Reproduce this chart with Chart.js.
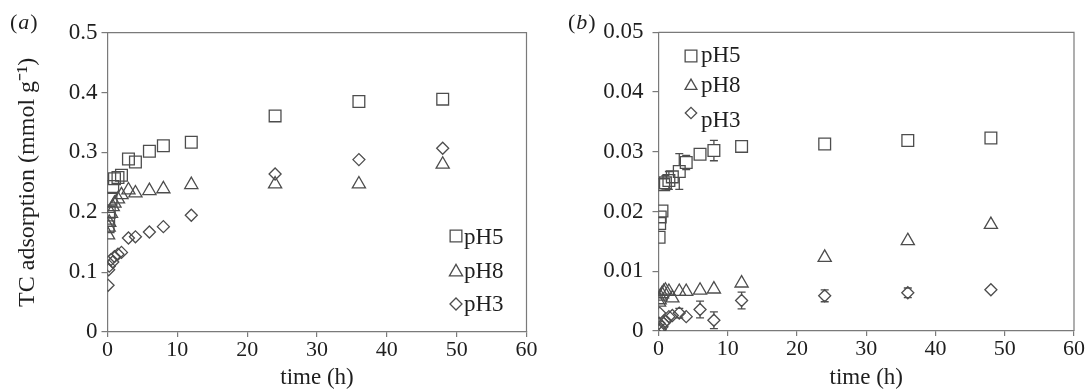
<!DOCTYPE html>
<html>
<head>
<meta charset="utf-8">
<script src="https://cdn.jsdelivr.net/npm/chart.js@4/dist/chart.umd.min.js"></script>
<style>
  body { margin: 0; background: #fff; }
  #wrap { position: relative; width: 1089px; height: 389px; }
  canvas { position: absolute; top: 0; }
  #chartA { left: 0; }
  #chartB { left: 540px; }
</style>
</head>
<body>
<div id="wrap">
  <canvas id="chartA" width="540" height="389"></canvas>
  <canvas id="chartB" width="549" height="389"></canvas>
</div>
<script>
// sampling times (h)
const times = [0.083, 0.167, 0.25, 0.5, 0.75, 1, 1.5, 2, 3, 4, 6, 8, 12, 24, 36, 48];
const xTicks = [0, 10, 20, 30, 40, 50, 60];
const yTicksA = [0, 0.1, 0.2, 0.3, 0.4, 0.5];
const yTicksB = [0, 0.01, 0.02, 0.03, 0.04, 0.05];
const seriesLabels = ['pH5', 'pH8', 'pH3'];

// panel (a)
const pH5A = [0.176, 0.19, 0.2, 0.222, 0.243, 0.256, 0.258, 0.262, 0.289, 0.284, 0.302, 0.311, 0.317, 0.361, 0.385, 0.389];
const pH8A = [0.162, 0.175, 0.183, 0.198, 0.209, 0.215, 0.222, 0.229, 0.237, 0.232, 0.236, 0.239, 0.246, 0.247, 0.247, 0.28];
const pH3A = [0.078, 0.104, 0.11, 0.121, 0.117, 0.126, 0.13, 0.133, 0.157, 0.159, 0.167, 0.176, 0.195, 0.264, 0.288, 0.307];

// panel (b) with error bars
const pH5B = [0.0157, 0.018, 0.0191, 0.0201, 0.0245, 0.0248, 0.0252, 0.0258, 0.0267, 0.0282, 0.0296, 0.0302, 0.0309, 0.0313, 0.0319, 0.0323];
const pH8B = [0.0048, 0.0052, 0.0058, 0.0062, 0.0066, 0.0068, 0.0066, 0.0055, 0.0066, 0.0066, 0.0068, 0.007, 0.008, 0.0123, 0.0151, 0.0178];
const pH3B = [0.0013, 0.003, 0.0002, 0.0007, 0.0013, 0.0016, 0.0024, 0.0026, 0.003, 0.0024, 0.0036, 0.0018, 0.0051, 0.0059, 0.0064, 0.0069];
const pH5BErr = [0, 0, 0, 0, 0.001, 0.0012, 0.0015, 0.001, 0.003, 0.0012, 0.0005, 0.0017, 0, 0, 0, 0];
const pH8BErr = [0, 0, 0, 0, 0, 0, 0, 0.0006, 0, 0, 0, 0, 0.0006, 0, 0, 0];
const pH3BErr = [0, 0, 0, 0, 0, 0, 0, 0, 0.0008, 0, 0.0014, 0.0014, 0.0014, 0.001, 0.0008, 0.0005];

const markColor = '#4d4d4d';
const axisColor = '#7a7a7a';
const textColor = '#1e1e1e';
const serif = '"Liberation Serif", "Times New Roman", serif';

const styles = [
  { pointStyle: 'rect', pointRadius: 8.3 },
  { pointStyle: 'triangle', pointRadius: 7.6 },
  { pointStyle: 'rectRot', pointRadius: 6 },
];

function makeDatasets(values, errors) {
  return values.map((vals, i) => ({
    label: seriesLabels[i],
    data: times.map((t, j) => ({ x: t, y: vals[j] })),
    errors: errors ? errors[i] : null,
    showLine: false,
    pointStyle: styles[i].pointStyle,
    pointRadius: styles[i].pointRadius,
    pointHoverRadius: styles[i].pointRadius,
    pointBorderWidth: 1.3,
    pointBorderColor: markColor,
    pointBackgroundColor: 'rgba(0,0,0,0)',
  }));
}

function drawMarker(ctx, style, r, x, y) {
  ctx.beginPath();
  if (style === 'rect') {
    const s = r * Math.SQRT1_2;
    ctx.rect(x - s, y - s, 2 * s, 2 * s);
  } else if (style === 'triangle') {
    ctx.moveTo(x, y - r);
    ctx.lineTo(x + r * Math.sin(2 * Math.PI / 3), y + r / 2);
    ctx.lineTo(x - r * Math.sin(2 * Math.PI / 3), y + r / 2);
    ctx.closePath();
  } else {
    ctx.moveTo(x - r, y);
    ctx.lineTo(x, y - r);
    ctx.lineTo(x + r, y);
    ctx.lineTo(x, y + r);
    ctx.closePath();
  }
  ctx.stroke();
}

const errorBars = {
  id: 'errorBars',
  afterDatasetsDraw(chart) {
    const ctx = chart.ctx;
    const xs = chart.scales.x, ys = chart.scales.y;
    ctx.save();
    ctx.strokeStyle = markColor;
    ctx.lineWidth = 1.3;
    chart.data.datasets.forEach(ds => {
      if (!ds.errors) return;
      ds.data.forEach((p, j) => {
        const e = ds.errors[j];
        if (!e) return;
        const x = xs.getPixelForValue(p.x);
        const yc = ys.getPixelForValue(p.y);
        const yt = ys.getPixelForValue(p.y + e);
        const yb = ys.getPixelForValue(p.y - e);
        const r = ds.pointRadius * 0.75;
        ctx.beginPath();
        if (yt < yc - r) { ctx.moveTo(x, yt); ctx.lineTo(x, yc - r); ctx.moveTo(x - 4, yt); ctx.lineTo(x + 4, yt); }
        if (yb > yc + r) { ctx.moveTo(x, yc + r); ctx.lineTo(x, yb); ctx.moveTo(x - 4, yb); ctx.lineTo(x + 4, yb); }
        ctx.stroke();
      });
    });
    ctx.restore();
  }
};

const frameAndLabels = {
  id: 'frameAndLabels',
  afterDraw(chart, args, opts) {
    const ctx = chart.ctx;
    const a = chart.chartArea;
    ctx.save();
    // top and right frame
    ctx.strokeStyle = axisColor;
    ctx.lineWidth = 1.2;
    ctx.beginPath();
    ctx.moveTo(a.left, a.top);
    ctx.lineTo(a.right, a.top);
    ctx.lineTo(a.right, a.bottom);
    ctx.stroke();

    // panel letter
    ctx.fillStyle = textColor;
    ctx.textBaseline = 'alphabetic';
    ctx.textAlign = 'left';
    let x = opts.panel.x;
    ctx.font = '22px ' + serif;
    ctx.fillText('(', x, opts.panel.y);
    x += ctx.measureText('(').width + 1;
    ctx.font = 'italic 22px ' + serif;
    ctx.fillText(opts.panel.letter, x, opts.panel.y);
    x += ctx.measureText(opts.panel.letter).width + 1;
    ctx.font = '22px ' + serif;
    ctx.fillText(')', x, opts.panel.y);

    // legend
    ctx.strokeStyle = markColor;
    ctx.lineWidth = 1.3;
    ctx.font = '23px ' + serif;
    chart.data.datasets.forEach((ds, i) => {
      const it = opts.legend[i];
      drawMarker(ctx, ds.pointStyle, ds.pointRadius * it.scale, it.mx, it.my);
      ctx.fillText(ds.label, it.tx, it.ty);
    });
    ctx.restore();
  }
};

function makeOptions(cfg) {
  return {
    responsive: false,
    devicePixelRatio: 1,
    animation: false,
    layout: { padding: { top: cfg.top, right: cfg.right, left: 0, bottom: 0 } },
    plugins: {
      legend: { display: false },
      tooltip: { enabled: false },
      frameAndLabels: { panel: cfg.panel, legend: cfg.legend },
    },
    scales: {
      x: {
        type: 'linear',
        min: 0,
        max: 60,
        afterBuildTicks: s => { s.ticks = xTicks.map(v => ({ value: v })); },
        afterFit: s => { s.height = cfg.xHeight; },
        grid: { drawOnChartArea: false, tickLength: 5, color: axisColor, lineWidth: 1.2 },
        border: { color: axisColor, width: 1.2 },
        ticks: { color: textColor, padding: 0, maxRotation: 0, font: { family: serif, size: 22 } },
        title: { display: true, text: 'time (h)', color: textColor, padding: 0, font: { family: serif, size: 23, lineHeight: 1 } },
      },
      y: {
        type: 'linear',
        min: 0,
        max: cfg.yMax,
        afterBuildTicks: s => { s.ticks = cfg.yTicks.map(v => ({ value: v })); },
        afterFit: s => { s.width = cfg.yWidth; },
        grid: { drawOnChartArea: false, tickLength: 6, color: axisColor, lineWidth: 1.2 },
        border: { color: axisColor, width: 1.2 },
        ticks: { color: textColor, padding: cfg.yPad, callback: v => String(v), font: { family: serif, size: 23 } },
        title: cfg.yTitle
          ? { display: true, text: cfg.yTitle, color: textColor, padding: { top: 16, bottom: 0 }, font: { family: serif, size: 24, lineHeight: 1 } }
          : { display: false },
      },
    },
  };
}

new Chart(document.getElementById('chartA'), {
  type: 'scatter',
  data: { datasets: makeDatasets([pH5A, pH8A, pH3A]) },
  options: makeOptions({
    top: 32.7, right: 13.5, xHeight: 57, yWidth: 107.5, yPad: 4,
    yMax: 0.5, yTicks: yTicksA,
    yTitle: 'TC adsorption (mmol g\u207B\u00B9)',
    panel: { letter: 'a', x: 10, y: 29 },
    legend: [
      { mx: 456, my: 236, tx: 464, ty: 244, scale: 1 },
      { mx: 456, my: 272, tx: 464, ty: 278, scale: 1 },
      { mx: 456, my: 304, tx: 464, ty: 311, scale: 1 },
    ],
  }),
  plugins: [errorBars, frameAndLabels],
});

new Chart(document.getElementById('chartB'), {
  type: 'scatter',
  data: { datasets: makeDatasets([pH5B, pH8B, pH3B], [pH5BErr, pH8BErr, pH3BErr]) },
  options: makeOptions({
    top: 32.3, right: 15, xHeight: 58, yWidth: 118.5, yPad: 9,
    yMax: 0.05, yTicks: yTicksB,
    yTitle: null,
    panel: { letter: 'b', x: 28, y: 29 },
    legend: [
      { mx: 151, my: 56, tx: 161, ty: 62, scale: 1 },
      { mx: 151, my: 86, tx: 161, ty: 92, scale: 0.9 },
      { mx: 151, my: 113, tx: 161, ty: 127, scale: 0.95 },
    ],
  }),
  plugins: [errorBars, frameAndLabels],
});
</script>
</body>
</html>
